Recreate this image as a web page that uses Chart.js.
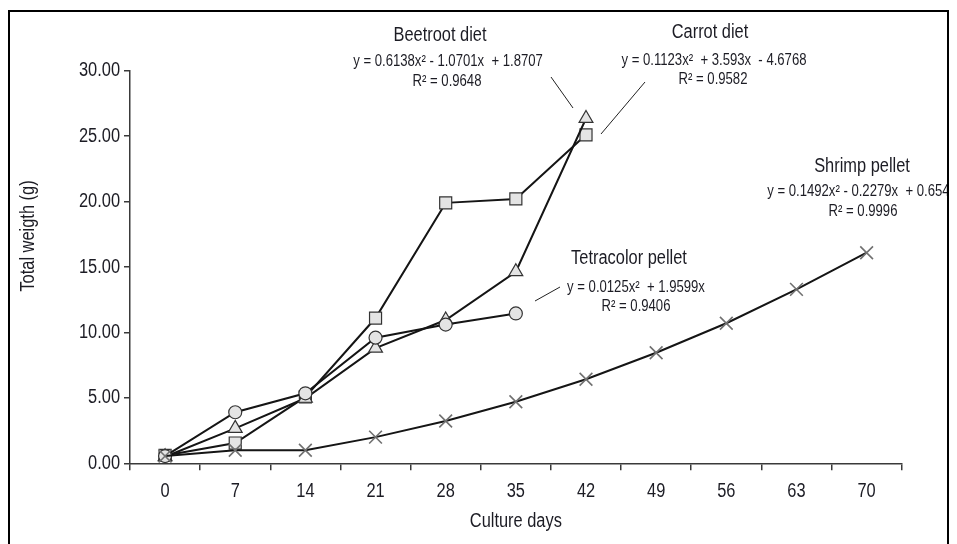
<!DOCTYPE html>
<html><head><meta charset="utf-8">
<script src="https://cdn.jsdelivr.net/npm/chart.js@4.4.1/dist/chart.umd.min.js"></script>
<style>html,body{margin:0;padding:0;background:#fff;}#wrap{width:957px;height:544px;}</style>
</head><body><div id="wrap"><canvas id="c" width="957" height="544"></canvas></div>
<script>
// ---- data ----
const days = ['0','7','14','21','28','35','42','49','56','63','70'];
const beetroot = [0.5, 2.67, 4.97, 8.8, 10.95, 14.64, 26.35];
const carrot = [0.6, 1.55, 5.07, 11.1, 19.9, 20.2, 25.1];
const tetracolor = [0.55, 3.9, 5.35, 9.6, 10.6, 11.45];
const shrimp = [0.55, 1.0, 1.0, 2.0, 3.23, 4.7, 6.42, 8.45, 10.7, 13.29, 16.09];
const yMin = 0, yMax = 30, yStep = 5;
const xTitle = 'Culture days';
const yTitle = 'Total weigth (g)';
const noteTitles = ['Beetroot diet','Carrot diet','Tetracolor pellet','Shrimp pellet'];
const noteEquations = ['y = 0.6138x² - 1.0701x  + 1.8707','y = 0.1123x²  + 3.593x  - 4.6768','y = 0.0125x²  + 1.9599x','y = 0.1492x² - 0.2279x  + 0.6541'];
const noteR2 = ['R² = 0.9648','R² = 0.9582','R² = 0.9406','R² = 0.9996'];

const FAM = '"Liberation Sans", Arial, sans-serif';
const SX = 0.82; // emulate a narrow face
const TXT = '#1c1c24';
const AX = '#3a3a3a';

// annotation placement (styling only)
const notePos = [
  {tx:440, ex:448, rx:447, ty:35, ey:62, ry:82, line:[551,77,573,108]},
  {tx:710, ex:714, rx:713, ty:32, ey:61, ry:80, line:[645,82,601,134]},
  {tx:629, ex:636, rx:636, ty:258, ey:288, ry:307, line:[560,287,535,301]},
  {tx:862, ex:862, rx:863, ty:166, ey:192, ry:212, line:null}
];

function narrowText(c,txt,x,y,size,align){
  c.save(); c.translate(x,y); c.scale(SX,1);
  c.font=size+'px '+FAM; c.textAlign=align||'center'; c.textBaseline='middle';
  c.fillText(txt,0,0); c.restore();
}

const deco = {
  id:'deco',
  beforeDraw(ch){
    const c=ch.ctx; c.save(); c.fillStyle='#fff'; c.fillRect(0,0,ch.width,ch.height); c.restore();
  },
  afterDraw(ch){
    const c=ch.ctx; c.save();
    c.fillStyle=TXT;
    const xs=ch.scales.x, ys=ch.scales.y;
    xs.ticks.forEach((t,i)=>narrowText(c,String(xs.getLabelForValue(t.value)),xs.getPixelForTick(i),491,20,'center'));
    ys.ticks.forEach((t,i)=>narrowText(c,Number(t.value).toFixed(2),120,ys.getPixelForTick(i),20,'right'));
    // frame
    c.strokeStyle='#000'; c.lineWidth=2;
    c.beginPath(); c.moveTo(9,545); c.lineTo(9,11); c.lineTo(948,11); c.lineTo(948,545); c.stroke();
    c.beginPath(); c.rect(10,12,937,533); c.clip();
    noteTitles.forEach((t,i)=>{
      const p=notePos[i];
      narrowText(c,t,p.tx,p.ty,20);
      narrowText(c,noteEquations[i],p.ex,p.ey,16);
      narrowText(c,noteR2[i],p.rx,p.ry,16);
      if(p.line){ c.strokeStyle='#222'; c.lineWidth=1; c.beginPath(); c.moveTo(p.line[0],p.line[1]); c.lineTo(p.line[2],p.line[3]); c.stroke(); }
    });
    narrowText(c,xTitle,(ch.chartArea.left+ch.chartArea.right)/2,521,20);
    c.translate(28,236); c.rotate(-Math.PI/2); narrowText(c,yTitle,0,0,20);
    c.restore();
  }
};

const markerFill='#e4e4e4', markerEdge='#333';
const line='#151515';
function ds(label,data,style,r){
  return {label,data,borderColor:line,borderWidth:2,pointStyle:style,pointRadius:r,pointHoverRadius:r,
    pointBackgroundColor:markerFill,pointBorderColor:markerEdge,pointBorderWidth:1.2,tension:0,fill:false};
}
const sh = ds('Shrimp pellet',shrimp,'crossRot',9); sh.pointBorderColor='#707070'; sh.pointBorderWidth=1.6;

new Chart(document.getElementById('c'),{
  type:'line',
  data:{labels:days,datasets:[
    sh,
    ds('Tetracolor pellet',tetracolor,'circle',6.5),
    ds('Beetroot diet',beetroot,'triangle',8),
    ds('Carrot diet',carrot,'rect',8.5)
  ]},
  options:{
    responsive:false,animation:false,devicePixelRatio:1,
    layout:{padding:{top:70.7,left:0,right:55.3,bottom:0}},
    plugins:{legend:{display:false},tooltip:{enabled:false}},
    scales:{
      x:{type:'category',offset:true,
        grid:{offset:true,drawOnChartArea:false,drawTicks:true,tickLength:7,color:AX,lineWidth:1.5},
        border:{display:true,color:AX,width:1.5},
        ticks:{color:'rgba(0,0,0,0)',font:{family:FAM,size:18},padding:9,maxRotation:0,autoSkip:false},
        afterFit(s){s.height=544-463.3;}
      },
      y:{min:yMin,max:yMax,
        grid:{drawOnChartArea:false,drawTicks:true,tickLength:6,color:AX,lineWidth:1.5},
        border:{display:true,color:AX,width:1.5},
        ticks:{stepSize:yStep,color:'rgba(0,0,0,0)',font:{family:FAM,size:18},padding:3,callback:v=>Number(v).toFixed(2)},
        afterFit(s){s.width=130;}
      }
    }
  },
  plugins:[deco]
});
</script></body></html>
